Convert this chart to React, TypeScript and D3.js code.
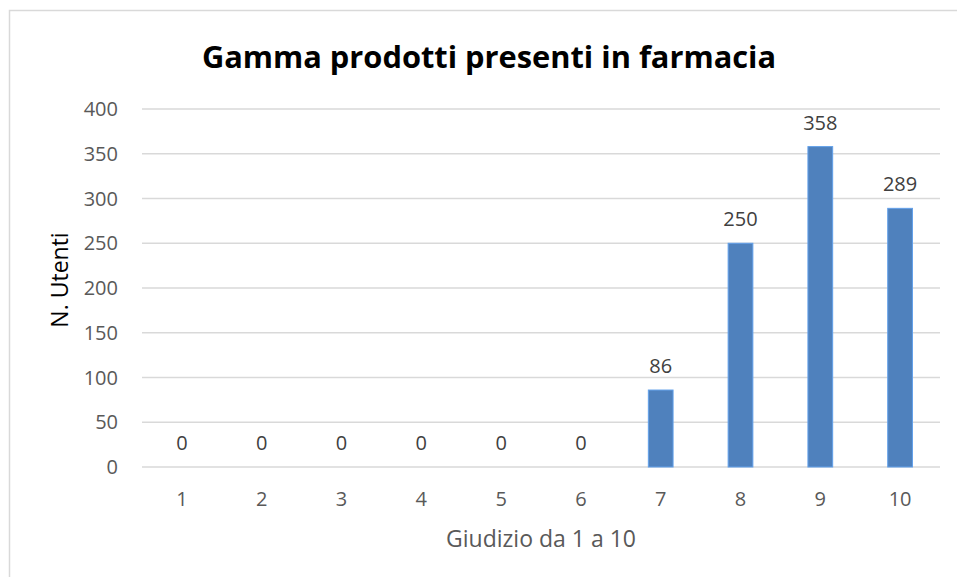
import React, { useEffect, useRef } from "react";
import * as d3 from "d3";

const categories = ["1", "2", "3", "4", "5", "6", "7", "8", "9", "10"];
const values = [0, 0, 0, 0, 0, 0, 86, 250, 358, 289];
const yTicks = [0, 50, 100, 150, 200, 250, 300, 350, 400];

const W = 957;
const H = 577;

export default function App() {
  const ref = useRef<SVGSVGElement>(null);

  useEffect(() => {
    const svg = d3.select(ref.current);
    svg.selectAll("*").remove();

    const font = "'Open Sans', sans-serif";
    const left = 142;
    const right = 940;
    const top = 109;
    const bottom = 467;

    // chart border: only top and left edges are inside the frame
    svg
      .append("path")
      .attr("d", `M9.5,${H} V10.5 H${W}`)
      .attr("fill", "none")
      .attr("stroke", "#d9d9d9")
      .attr("stroke-width", 1.5);

    const x = d3.scaleBand().domain(categories).range([left, right]).paddingInner(0.69).paddingOuter(0.345);
    const y = d3.scaleLinear().domain([0, 400]).range([bottom, top]);

    svg
      .append("g")
      .selectAll("line")
      .data(yTicks)
      .enter()
      .append("line")
      .attr("x1", left)
      .attr("x2", right)
      .attr("y1", (d) => y(d))
      .attr("y2", (d) => y(d))
      .attr("stroke", "#d9d9d9")
      .attr("stroke-width", 1.5);

    svg
      .append("g")
      .selectAll("text")
      .data(yTicks)
      .enter()
      .append("text")
      .attr("x", 118)
      .attr("y", (d) => y(d))
      .attr("dy", "0.35em")
      .attr("text-anchor", "end")
      .attr("font-family", font)
      .attr("font-size", 20)
      .attr("fill", "#595959")
      .text((d) => d);

    svg
      .append("g")
      .selectAll("rect")
      .data(values)
      .enter()
      .append("rect")
      .attr("x", (d, i) => x(categories[i]) as number)
      .attr("y", (d) => y(d))
      .attr("width", x.bandwidth())
      .attr("height", (d) => bottom - y(d))
      .attr("fill", "#4f81bd")
      .attr("stroke", d3.color("#4f81bd")!.brighter(0.6).toString())
      .attr("stroke-width", (d) => (d > 0 ? 1 : 0));

    svg
      .append("g")
      .selectAll("text")
      .data(values)
      .enter()
      .append("text")
      .attr("x", (d, i) => (x(categories[i]) as number) + x.bandwidth() / 2)
      .attr("y", (d) => y(d) - 17)
      .attr("text-anchor", "middle")
      .attr("font-family", font)
      .attr("font-size", 20)
      .attr("fill", "#404040")
      .text((d) => d);

    svg
      .append("g")
      .selectAll("text")
      .data(categories)
      .enter()
      .append("text")
      .attr("x", (d) => (x(d) as number) + x.bandwidth() / 2)
      .attr("y", 499)
      .attr("dy", "0.35em")
      .attr("text-anchor", "middle")
      .attr("font-family", font)
      .attr("font-size", 20)
      .attr("fill", "#595959")
      .text((d) => d);

    svg
      .append("text")
      .attr("x", 489)
      .attr("y", 57)
      .attr("dy", "0.35em")
      .attr("text-anchor", "middle")
      .attr("font-family", font)
      .attr("font-weight", "bold")
      .attr("font-size", 30.8)
      .attr("fill", "#000")
      .text("Gamma prodotti presenti in farmacia");

    svg
      .append("text")
      .attr("transform", "translate(60,280) rotate(-90)")
      .attr("dy", "0.35em")
      .attr("text-anchor", "middle")
      .attr("font-family", font)
      .attr("font-size", 23)
      .attr("fill", "#000")
      .text("N. Utenti");

    svg
      .append("text")
      .attr("x", 541)
      .attr("y", 539)
      .attr("dy", "0.35em")
      .attr("text-anchor", "middle")
      .attr("font-family", font)
      .attr("font-size", 23)
      .attr("fill", "#595959")
      .text("Giudizio da 1 a 10");
  }, []);

  return (
    <svg
      ref={ref}
      width={W}
      height={H}
      style={{ position: "absolute", left: 0, top: 0, background: "#fff" }}
    />
  );
}
